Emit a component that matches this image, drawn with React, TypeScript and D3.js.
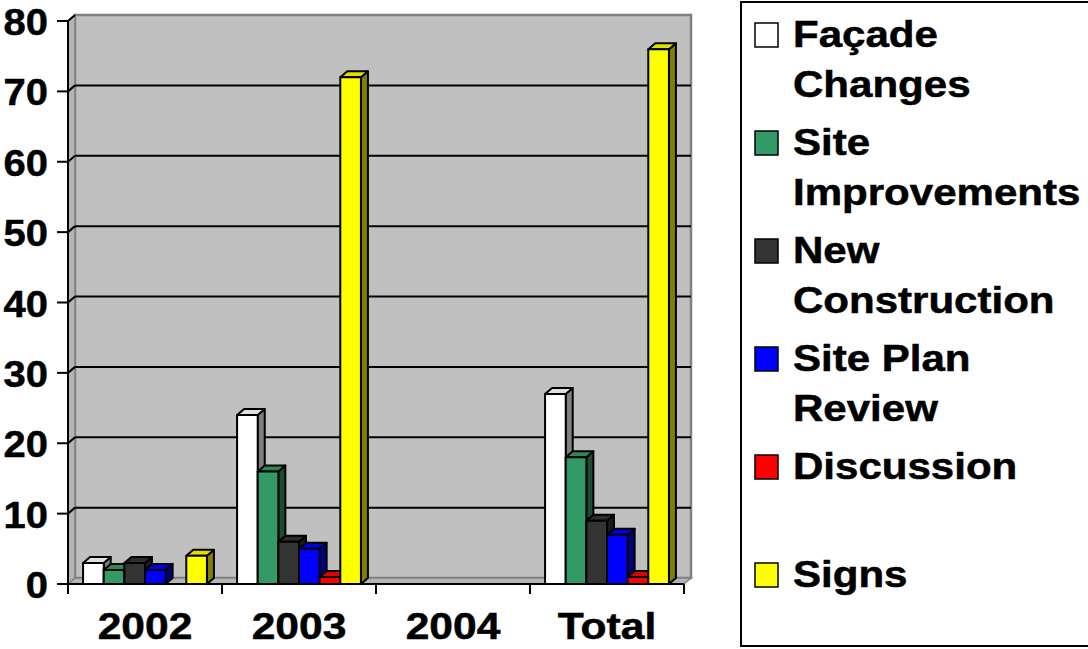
import React from "react";
import * as d3 from "d3";

// Chart data
const categories = ["2002", "2003", "2004", "Total"];
const seriesNames = [
  "Façade Changes",
  "Site Improvements",
  "New Construction",
  "Site Plan Review",
  "Discussion",
  "Signs",
];
const facadeChanges = [3, 24, 0, 27];
const siteImprovements = [2, 16, 0, 18];
const newConstruction = [3, 6, 0, 9];
const sitePlanReview = [2, 5, 0, 7];
const discussion = [0, 1, 0, 1];
const signs = [4, 72, 0, 76];
const yTicks = [0, 10, 20, 30, 40, 50, 60, 70, 80];
const legendLines = [
  ["Façade", "Changes"],
  ["Site", "Improvements"],
  ["New", "Construction"],
  ["Site Plan", "Review"],
  ["Discussion", ""],
  ["Signs", ""],
];

const seriesValues = [
  facadeChanges,
  siteImprovements,
  newConstruction,
  sitePlanReview,
  discussion,
  signs,
];
const seriesColors = ["#FFFFFF", "#339966", "#333333", "#0000FF", "#FF0000", "#FFFF00"];

const W = 1088;
const H = 649;
const FONT = "'Liberation Sans', Arial, Helvetica, sans-serif";
const SX = 1.18; // horizontal text stretch

// plot geometry (front plane)
const x0 = 68;
const x1 = 684;
const yBase = 584;
const yTop = 21;
// wall depth offset
const DX = 7;
const DY = -6;
// bar depth offset
const BDX = 7;
const BDY = -6;

function shade(c: string, k: number) {
  const col = d3.rgb(c);
  return d3.rgb(col.r * k, col.g * k, col.b * k).formatHex();
}

export default function App() {
  const y = d3.scaleLinear().domain([0, 80]).range([yBase, yTop]);
  const xCat = d3.scaleBand<string>().domain(categories).range([x0, x1]).padding(0);
  const xSer = d3
    .scaleBand<string>()
    .domain(seriesNames)
    .range([0, xCat.bandwidth()])
    .paddingInner(0)
    .paddingOuter(0.73);

  const pts = (arr: number[][]) => arr.map((p) => p.join(",")).join(" ");

  const bars: React.ReactNode[] = [];
  categories.forEach((cat, ci) => {
    seriesNames.forEach((s, si) => {
      const v = seriesValues[si][ci];
      if (v <= 0) return;
      const bx = (xCat(cat) as number) + (xSer(s) as number);
      const bw = xSer.bandwidth();
      const by = y(v);
      const col = seriesColors[si];
      const side = si === 0 ? "#808080" : shade(col, 0.5);
      const top = si === 0 ? "#E0E0E0" : shade(col, 0.88);
      bars.push(
        <g key={`${ci}-${si}`} stroke="#000" strokeWidth={2} strokeLinejoin="round">
          <polygon
            points={pts([
              [bx + bw, by],
              [bx + bw + BDX, by + BDY],
              [bx + bw + BDX, yBase + BDY],
              [bx + bw, yBase],
            ])}
            fill={side}
          />
          <polygon
            points={pts([
              [bx, by],
              [bx + BDX, by + BDY],
              [bx + bw + BDX, by + BDY],
              [bx + bw, by],
            ])}
            fill={top}
          />
          <rect x={bx} y={by} width={bw} height={yBase - by} fill={col} />
        </g>
      );
    });
  });

  const catTicks = [...categories.map((c) => xCat(c) as number), x1];

  const textStyle = {
    fontFamily: FONT,
    fontWeight: "bold" as const,
    fill: "#000",
    stroke: "#000",
    strokeWidth: 0.5,
  };

  return (
    <svg
      width={W}
      height={H}
      viewBox={`0 0 ${W} ${H}`}
      style={{ position: "absolute", left: 0, top: 0, background: "#fff" }}
    >
      {/* back wall */}
      <polygon
        points={pts([
          [x0 + DX, yTop + DY],
          [x1 + DX, yTop + DY],
          [x1 + DX, yBase + DY],
          [x0 + DX, yBase + DY],
        ])}
        fill="#C0C0C0"
        stroke="#808080"
        strokeWidth={2.5}
      />
      {/* side wall */}
      <polygon
        points={pts([
          [x0, yTop],
          [x0 + DX, yTop + DY],
          [x0 + DX, yBase + DY],
          [x0, yBase],
        ])}
        fill="#B4B4B4"
        stroke="#808080"
        strokeWidth={1.5}
      />
      {/* floor */}
      <polygon
        points={pts([
          [x0, yBase],
          [x0 + DX, yBase + DY],
          [x1 + DX, yBase + DY],
          [x1, yBase],
        ])}
        fill="#B4B4B4"
        stroke="#808080"
        strokeWidth={1.5}
      />
      {/* gridlines */}
      {yTicks.map((t) => (
        <g key={t} stroke="#000" strokeWidth={2}>
          {t > 0 && t < 80 && (
            <line x1={x0 + DX} x2={x1 + DX} y1={y(t) + DY} y2={y(t) + DY} />
          )}
          {t > 0 && <line x1={x0} x2={x0 + DX} y1={y(t)} y2={y(t) + DY} />}
          <line x1={x0 - 11} x2={x0} y1={y(t)} y2={y(t)} />
        </g>
      ))}
      {/* axes */}
      <line x1={x0} x2={x0} y1={yTop} y2={yBase} stroke="#000" strokeWidth={2} />
      <line x1={x0} x2={x1} y1={yBase} y2={yBase} stroke="#000" strokeWidth={2} />
      {catTicks.map((tx, i) => (
        <line key={i} x1={tx} x2={tx} y1={yBase} y2={yBase + 10} stroke="#000" strokeWidth={2} />
      ))}
      {/* bars */}
      {bars}
      {/* y labels */}
      {yTicks.map((t) => (
        <text
          key={t}
          transform={`translate(48,${y(t) + 14}) scale(1.08,1)`}
          textAnchor="end"
          fontSize={37}
          {...textStyle}
        >
          {t}
        </text>
      ))}
      {/* category labels */}
      {categories.map((c) => (
        <text
          key={c}
          transform={`translate(${(xCat(c) as number) + xCat.bandwidth() / 2},639) scale(1.15,1)`}
          textAnchor="middle"
          fontSize={37}
          {...textStyle}
        >
          {c}
        </text>
      ))}
      {/* legend */}
      <rect x={741} y={2} width={420} height={644} fill="#fff" stroke="#000" strokeWidth={2} />
      {seriesNames.map((s, i) => {
        const base = 47 + i * 108;
        return (
          <g key={s}>
            <rect
              x={755}
              y={base - 24}
              width={23}
              height={24}
              fill={seriesColors[i]}
              stroke="#000"
              strokeWidth={1.5}
            />
            {legendLines[i].map((ln, li) =>
              ln ? (
                <text
                  key={li}
                  transform={`translate(793,${base + li * 50}) scale(${SX * 0.99},1)`}
                  fontSize={36}
                  {...textStyle}
                >
                  {ln}
                </text>
              ) : null
            )}
          </g>
        );
      })}
    </svg>
  );
}
